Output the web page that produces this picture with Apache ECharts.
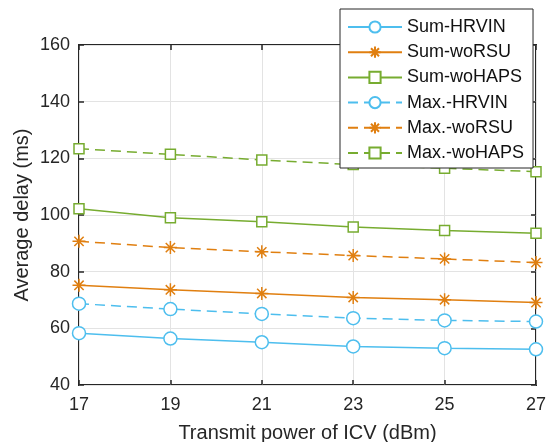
<!DOCTYPE html>
<html>
<head>
<meta charset="utf-8">
<script src="https://cdn.jsdelivr.net/npm/echarts@6/dist/echarts.min.js"></script>
<style>
  html, body { margin: 0; padding: 0; background: #fff; }
  #chart { width: 548px; height: 442px; }
</style>
</head>
<body>
<div id="chart"></div>
<script>
// Transmit power levels (dBm) on the x axis
const powers = [17, 19, 21, 23, 25, 27];

// Average delay (ms) for each scheme
const sumHRVIN  = [58.3, 56.4, 55.1, 53.6, 53.0, 52.6];
const sumWoRSU  = [75.2, 73.6, 72.3, 70.9, 70.1, 69.1];
const sumWoHAPS = [102.2, 99.0, 97.6, 95.8, 94.5, 93.6];
const maxHRVIN  = [68.7, 66.8, 65.1, 63.6, 62.8, 62.4];
const maxWoRSU  = [90.7, 88.5, 87.0, 85.7, 84.5, 83.2];
const maxWoHAPS = [123.4, 121.4, 119.4, 117.8, 116.5, 115.3];

const seriesNames = ['Sum-HRVIN', 'Sum-woRSU', 'Sum-woHAPS', 'Max.-HRVIN', 'Max.-woRSU', 'Max.-woHAPS'];

const BLUE = '#4DBEEE';
const ORANGE = '#E07F10';
const GREEN = '#77AC30';
const INK = '#262626';
const FONT = 'Liberation Sans, Arial, sans-serif';

// Eight-armed asterisk drawn as stroked segments
const ASTERISK = 'path://M0,-6L0,6M-6,0L6,0M-4.3,-4.3L4.3,4.3M-4.3,4.3L4.3,-4.3';

function makeSeries(name, data, color, symbol, symbolSize, dashed) {
  return {
    name: name,
    type: 'line',
    data: data.map((v, i) => [powers[i], v]),
    symbol: symbol,
    symbolSize: symbolSize,
    showAllSymbol: true,
    lineStyle: { color: color, width: 1.5, type: dashed ? [10, 6] : 'solid' },
    itemStyle: { color: symbol === ASTERISK ? color : '#fff', borderColor: color, borderWidth: 1.5 },
    emphasis: { disabled: true },
    z: 3
  };
}

const chart = echarts.init(document.getElementById('chart'), null, { renderer: 'canvas' });

const gridBox = { left: 79, right: 12, top: 45, bottom: 57 };

chart.setOption({
  animation: false,
  backgroundColor: '#fff',
  textStyle: { fontFamily: FONT },
  grid: Object.assign({
    show: true, borderColor: INK, borderWidth: 2, backgroundColor: 'transparent',
    containLabel: false, outerBoundsMode: 'none'
  }, gridBox),
  legend: {
    orient: 'vertical',
    left: 340,
    top: 9,
    data: seriesNames,
    backgroundColor: '#fff',
    borderColor: INK,
    borderWidth: 1,
    borderRadius: 0,
    padding: [9, 9, 6, 7],
    itemWidth: 54,
    itemHeight: 14,
    itemGap: 7.2,
    textStyle: { fontSize: 18, color: '#111', fontFamily: FONT },
    z: 10
  },
  xAxis: [{
    type: 'value',
    min: 17, max: 27, interval: 2,
    name: 'Transmit power of ICV (dBm)',
    nameLocation: 'middle',
    nameGap: 38,
    nameMoveOverlap: false,
    nameTextStyle: { fontSize: 20, color: INK, fontFamily: FONT },
    axisLine: { show: false },
    axisTick: { show: true, inside: true, length: 5, lineStyle: { color: INK, width: 1.5 } },
    axisLabel: { fontSize: 18, color: INK, margin: 11, fontFamily: FONT },
    splitLine: { show: true, lineStyle: { color: '#e3e3e3', width: 1 } }
  }, {
    type: 'value', position: 'top',
    min: 17, max: 27, interval: 2,
    axisLine: { show: false },
    axisTick: { show: true, inside: true, length: 5, lineStyle: { color: INK, width: 1.5 } },
    axisLabel: { show: false },
    splitLine: { show: false }
  }],
  yAxis: [{
    type: 'value',
    min: 40, max: 160, interval: 20,
    name: 'Average delay (ms)',
    nameLocation: 'middle',
    nameGap: 47,
    nameMoveOverlap: false,
    nameTextStyle: { fontSize: 20, color: INK, fontFamily: FONT },
    axisLine: { show: false },
    axisTick: { show: true, inside: true, length: 5, lineStyle: { color: INK, width: 1.5 } },
    axisLabel: { fontSize: 18, color: INK, margin: 9, fontFamily: FONT },
    splitLine: { show: true, lineStyle: { color: '#e3e3e3', width: 1 } }
  }, {
    type: 'value', position: 'right',
    min: 40, max: 160, interval: 20,
    axisLine: { show: false },
    axisTick: { show: true, inside: true, length: 5, lineStyle: { color: INK, width: 1.5 } },
    axisLabel: { show: false },
    splitLine: { show: false }
  }],
  series: [
    makeSeries(seriesNames[0], sumHRVIN, BLUE, 'circle', 13, false),
    makeSeries(seriesNames[1], sumWoRSU, ORANGE, ASTERISK, 13, false),
    makeSeries(seriesNames[2], sumWoHAPS, GREEN, 'rect', 10, false),
    makeSeries(seriesNames[3], maxHRVIN, BLUE, 'circle', 13, true),
    makeSeries(seriesNames[4], maxWoRSU, ORANGE, ASTERISK, 13, true),
    makeSeries(seriesNames[5], maxWoHAPS, GREEN, 'rect', 10, true)
  ]
});
</script>
</body>
</html>
